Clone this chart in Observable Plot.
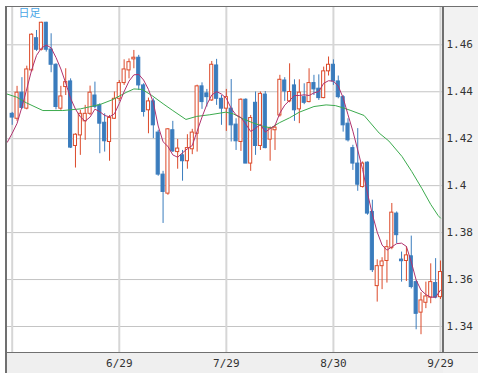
<!DOCTYPE html>
<html>
<head>
<meta charset="utf-8">
<script src="https://cdn.jsdelivr.net/npm/d3@7"></script>
<script src="https://cdn.jsdelivr.net/npm/@observablehq/plot@0.6"></script>
<style>
  html, body { margin: 0; padding: 0; background: #ffffff; }
</style>
</head>
<body>
<div id="chart"></div>
<script>
// ---- data ----
const open  = [1.4306,1.4285,1.4396,1.4328,1.4491,1.4628,1.4579,1.4694,1.4580,1.4515,
               1.4328,1.4420,1.4444,1.4169,1.4214,1.4274,1.4306,1.4384,1.4342,1.4268,
               1.4186,1.4285,1.4370,1.4437,1.4491,1.4538,1.4545,1.4427,1.4321,1.4359,
               1.4226,1.4047,1.3966,1.4236,1.4143,1.4129,1.4104,1.4155,1.4221,1.4423,
               1.4393,1.4363,1.4512,1.4370,1.4328,1.4328,1.4260,1.4186,1.4366,1.4094,
               1.4353,1.4169,1.4388,1.4196,1.4236,1.4299,1.4448,1.4359,1.4427,1.4325,
               1.4377,1.4356,1.4437,1.4413,1.4373,1.4487,1.4515,1.4444,1.4377,1.4264,
               1.4160,1.4094,1.3994,1.4098,1.3888,1.3572,1.3657,1.3679,1.3735,1.3881,
               1.3685,1.3679,1.3699,1.3589,1.3459,1.3501,1.3523,1.3585,1.3525];
const high  = [1.4312,1.4423,1.4460,1.4509,1.4647,1.4661,1.4696,1.4696,1.4647,1.4519,
               1.4423,1.4498,1.4455,1.4221,1.4321,1.4342,1.4424,1.4441,1.4349,1.4306,
               1.4299,1.4399,1.4448,1.4536,1.4540,1.4576,1.4555,1.4434,1.4373,1.4370,
               1.4236,1.4061,1.4243,1.4274,1.4197,1.4150,1.4217,1.4240,1.4428,1.4438,
               1.4410,1.4529,1.4538,1.4384,1.4410,1.4452,1.4285,1.4370,1.4370,1.4299,
               1.4399,1.4399,1.4401,1.4250,1.4257,1.4470,1.4460,1.4519,1.4451,1.4451,
               1.4434,1.4498,1.4470,1.4472,1.4505,1.4548,1.4536,1.4467,1.4384,1.4285,
               1.4172,1.4243,1.4101,1.4101,1.3938,1.3684,1.3693,1.3767,1.3924,1.3888,
               1.3717,1.3740,1.3785,1.3595,1.3544,1.3589,1.3667,1.3689,1.3679];
const low   = [1.4257,1.4274,1.4325,1.4323,1.4484,1.4572,1.4574,1.4569,1.4481,1.4323,
               1.4321,1.4384,1.4158,1.4075,1.4129,1.4193,1.4299,1.4328,1.4136,1.4143,
               1.4104,1.4282,1.4359,1.4427,1.4455,1.4498,1.4406,1.4292,1.4221,1.4200,
               1.4040,1.3839,1.3959,1.4141,1.4070,1.4019,1.4070,1.4132,1.4143,1.4325,
               1.4335,1.4359,1.4342,1.4257,1.4231,1.4186,1.4150,1.4146,1.4094,1.4061,
               1.4129,1.4150,1.4157,1.4104,1.4150,1.4292,1.4359,1.4353,1.4274,1.4264,
               1.4345,1.4353,1.4384,1.4363,1.4370,1.4467,1.4427,1.4370,1.4228,1.4186,
               1.4065,1.3976,1.3990,1.3874,1.3630,1.3504,1.3557,1.3585,1.3727,1.3753,
               1.3589,1.3592,1.3560,1.3386,1.3365,1.3476,1.3497,1.3518,1.3515];
const close = [1.4290,1.4396,1.4331,1.4495,1.4643,1.4579,1.4694,1.4579,1.4515,1.4335,
               1.4380,1.4441,1.4162,1.4217,1.4306,1.4306,1.4396,1.4335,1.4264,1.4189,
               1.4288,1.4370,1.4437,1.4495,1.4526,1.4545,1.4427,1.4314,1.4359,1.4257,
               1.4047,1.3973,1.4240,1.4146,1.4158,1.4104,1.4160,1.4226,1.4423,1.4356,
               1.4377,1.4515,1.4370,1.4328,1.4377,1.4257,1.4189,1.4366,1.4094,1.4288,
               1.4169,1.4391,1.4160,1.4243,1.4247,1.4451,1.4401,1.4399,1.4321,1.4396,
               1.4353,1.4437,1.4410,1.4373,1.4487,1.4515,1.4444,1.4377,1.4257,1.4193,
               1.4094,1.4004,1.4094,1.3881,1.3640,1.3657,1.3677,1.3738,1.3885,1.3789,
               1.3678,1.3703,1.3568,1.3454,1.3511,1.3528,1.3589,1.3523,1.3632];

// short moving average (magenta), one value per candle starting one candle before the first
const maShortStart = -1;
const maShort = [1.4185,1.4223,1.4265,1.4335,1.4412,1.4493,1.4555,1.4586,1.4599,1.4587,
                 1.4546,1.4497,1.4437,1.4372,1.4326,1.4293,1.4275,1.4292,1.4326,1.4315,
                 1.4299,1.4293,1.4306,1.4350,1.4401,1.4445,1.4472,1.4474,1.4450,1.4410,
                 1.4354,1.4254,1.4187,1.4167,1.4131,1.4121,1.4140,1.4157,1.4171,1.4232,
                 1.4292,1.4346,1.4386,1.4401,1.4390,1.4372,1.4329,1.4301,1.4290,1.4262,
                 1.4231,1.4244,1.4261,1.4228,1.4243,1.4256,1.4309,1.4343,1.4363,1.4384,
                 1.4384,1.4387,1.4384,1.4395,1.4401,1.4436,1.4447,1.4445,1.4424,1.4374,
                 1.4302,1.4232,1.4152,1.4069,1.3968,1.3878,1.3802,1.3747,1.3725,1.3739,
                 1.3753,1.3755,1.3741,1.3675,1.3598,1.3555,1.3536,1.3525,1.3525,1.3555];

// long moving average (green), sampled along the line (position in candles, value)
const maLongAt  = [-1.17,0.9,2.9,6.3,10.4,14,18.1,20.7,23.4,25,26.7,28.7,31,33,35.7,37.9,40.6,43.9,45.4,
                   47.4,49.4,51.5,53.2,54.9,57,59,62,64.5,66.4,67.9,69.6,72.3,75.4,77.4,80.1,82.1,84.2,86,87.5,88];
const maLongVal = [1.4391,1.4377,1.4353,1.4320,1.4320,1.4327,1.4346,1.4367,1.4397,1.4412,1.4410,1.4384,
                   1.4349,1.4320,1.4282,1.4295,1.4302,1.4313,1.4306,1.4285,1.4268,1.4253,1.4246,1.4268,
                   1.4289,1.4313,1.4337,1.4344,1.4341,1.4332,1.4320,1.4299,1.4224,1.4190,1.4124,1.4060,
                   1.3987,1.3920,1.3873,1.3862];

const yTicks = [1.34, 1.36, 1.38, 1.40, 1.42, 1.44, 1.46];
const xGridAt = [0, 22, 44, 66, 88];
const xTickAt = [22, 44, 66, 88];
const xTickLabels = ["6/29", "7/29", "8/30", "9/29"];
const periodLabel = "日足";

// ---- build ----
const UP = "#dc4a2a", DOWN = "#3a7cbd";
const candles = open.map((o, i) => ({i, o, h: high[i], l: low[i], c: close[i], up: close[i] >= o}));
const shortLine = maShort.map((v, k) => ({i: k + maShortStart, v}));
const longLine = maLongAt.map((x, k) => ({i: x, v: maLongVal[k]}));

const plot = Plot.plot({
  width: 478,
  height: 373,
  marginLeft: 6,
  marginRight: 35,
  marginTop: 6,
  marginBottom: 21,
  x: {type: "linear", domain: [-1.17, 88.62], axis: null, label: null},
  y: {type: "linear", domain: [1.32892, 1.47632], axis: null, label: null},
  style: {background: "transparent", fontFamily: "'DejaVu Sans Mono', monospace", fontSize: "11px", overflow: "visible"},
  marks: [
    Plot.frame({fill: "#ffffff", stroke: "none"}),
    Plot.ruleY(yTicks, {stroke: "#c4c4c4", strokeWidth: 1}),
    Plot.ruleX(xGridAt, {stroke: "#d6d6d6", strokeWidth: 2}),
    Plot.ruleX(candles, {x: "i", y1: "l", y2: "h", stroke: d => d.up ? UP : DOWN, strokeWidth: 1}),
    Plot.rect(candles, {
      x1: d => d.i - 0.32, x2: d => d.i + 0.32,
      y1: "o", y2: "c",
      fill: d => d.up ? "#ffffff" : DOWN,
      stroke: d => d.up ? UP : DOWN,
      strokeWidth: 1
    }),
    Plot.line(longLine, {x: "i", y: "v", stroke: "#3cab4e", strokeWidth: 1, clip: true}),
    Plot.line(shortLine, {x: "i", y: "v", stroke: "#b0326e", strokeWidth: 1, clip: true}),
    Plot.axisY(yTicks, {
      anchor: "right", tickSize: 0, tickPadding: 3, label: null,
      tickFormat: d => String(d), fill: "#333333", fontSize: 11, textAnchor: "start"
    }),
    Plot.axisX(xTickAt, {
      anchor: "bottom", tickSize: 0, tickPadding: 7, label: null,
      tickFormat: d => xTickLabels[xTickAt.indexOf(d)], fill: "#333333", fontSize: 11
    }),
    Plot.text([periodLabel], {
      frameAnchor: "top-left", dx: 12, dy: 3, textAnchor: "start", lineAnchor: "top",
      fill: "#4aa6e6", fontSize: 11, fontFamily: "'Noto Sans CJK JP', sans-serif"
    })
  ]
});

// panel backgrounds and frame lines, placed from the plot's own scale ranges
const svg = d3.select(plot);
const [xl, xr] = plot.scale("x").range;
const [yb, yt] = plot.scale("y").range;
const W = 478, H = 373;
const bg = svg.insert("g", ":first-child");
bg.append("rect").attr("x", xr).attr("y", yt).attr("width", W - xr).attr("height", H - yt).attr("fill", "#f2f2f2");
bg.append("rect").attr("x", xl).attr("y", yb).attr("width", xr - xl).attr("height", H - yb).attr("fill", "#efefef");
const lines = svg.append("g").attr("stroke", "#707070").attr("stroke-width", 1).attr("shape-rendering", "crispEdges");
lines.append("line").attr("x1", xl).attr("x2", W).attr("y1", yt).attr("y2", yt);
lines.append("line").attr("x1", xl).attr("x2", xl).attr("y1", yt).attr("y2", H).attr("stroke-width", 2);
lines.append("line").attr("x1", xr).attr("x2", xr).attr("y1", yt).attr("y2", yb).attr("stroke-width", 1.5);
lines.append("line").attr("x1", xl).attr("x2", W).attr("y1", yb).attr("y2", yb);

document.getElementById("chart").appendChild(plot);
</script>
</body>
</html>
